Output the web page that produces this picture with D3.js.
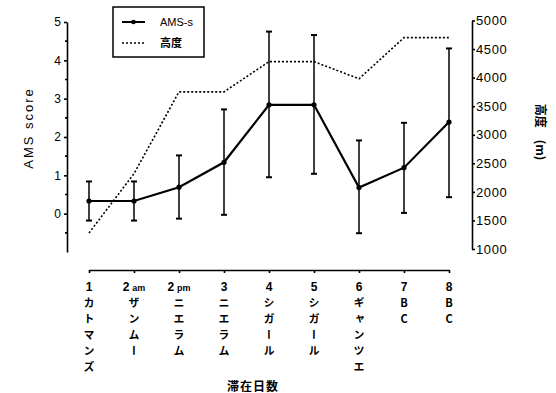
<!DOCTYPE html>
<html>
<head>
<meta charset="utf-8">
<script src="https://cdn.jsdelivr.net/npm/d3@7"></script>
<style>
  body { margin: 0; background: #fff; }
  svg { display: block; font-family: "Liberation Sans", Arial, sans-serif; }
  .axis path, .axis line { stroke: #000; stroke-width: 1.6; }
  .axis text { fill: #000; }
</style>
</head>
<body>
<svg id="chart"></svg>
<script>
const w = 556,
h = 393,
days = ["1", "2am", "2pm", "3", "4", "5", "6", "7", "8"],
dayNums = ["1", "2", "2", "3", "4", "5", "6", "7", "8"],
daySuffix = ["", "am", "pm", "", "", "", "", "", ""],
places = ["カトマンズ", "ザンムー", "ニエラム", "ニエラム", "シガール", "シガール", "ギャンツエ", "BC", "BC"],
amsMean = [0.33, 0.33, 0.69, 1.34, 2.84, 2.84, 0.68, 1.2, 2.39],
amsUpper = [0.84, 0.84, 1.52, 2.72, 4.75, 4.66, 1.91, 2.37, 4.31],
amsLower = [-0.18, -0.18, -0.13, -0.03, 0.95, 1.04, -0.51, 0.02, 0.43],
altitude = [1280, 2320, 3750, 3750, 4280, 4280, 3980, 4700, 4700],
amsTicks = [0, 1, 2, 3, 4, 5],
amsMinor = [-0.5, 0.5, 1.5, 2.5, 3.5, 4.5],
altTicks = [1000, 1500, 2000, 2500, 3000, 3500, 4000, 4500, 5000];

const svg = d3.select("#chart")
    .attr("width", w)
    .attr("height", h)
    .attr("viewBox", [0, 0, w, h]);

const x = d3.scalePoint()
    .domain(days)
    .range([89, 449]);

const yAms = d3.scaleLinear()
    .domain([-1, 5])
    .range([252, 22]);

const yAlt = d3.scaleLinear()
    .domain([1000, 5000])
    .range([249, 20.5]);

// left axis
const left = svg.append("g")
    .attr("class", "axis")
    .attr("transform", "translate(67,0)")
    .call(d3.axisLeft(yAms).tickValues(amsTicks).tickSize(3).tickPadding(3).tickSizeOuter(0).tickFormat(d3.format("d")));
left.selectAll("text").attr("font-size", 12);
left.selectAll(".minor")
    .data(amsMinor)
    .enter().append("line")
    .attr("x1", -2).attr("x2", 0)
    .attr("y1", d => yAms(d)).attr("y2", d => yAms(d))
    .attr("stroke", "#000").attr("stroke-width", 1.2);

// right axis
const right = svg.append("g")
    .attr("class", "axis")
    .attr("transform", "translate(472,0)")
    .call(d3.axisRight(yAlt).tickValues(altTicks).tickSize(3).tickPadding(1).tickSizeOuter(0).tickFormat(d3.format("d")));
right.selectAll("text").attr("font-size", 13).attr("letter-spacing", 0.6);

// x axis
svg.append("g")
    .attr("class", "axis")
    .attr("transform", "translate(0,270)")
    .call(d3.axisBottom(x).tickSize(3).tickSizeOuter(0).tickFormat(""));

// x tick labels
const lab = svg.append("g")
    .selectAll("g")
    .data(days)
    .enter().append("g")
    .attr("transform", d => `translate(${x(d)},0)`);

lab.append("text")
    .attr("y", 291)
    .attr("text-anchor", "middle")
    .attr("font-size", 12)
    .attr("font-weight", "bold")
    .each(function(d, i) {
        const t = d3.select(this);
        t.append("tspan").text(dayNums[i]);
        if (daySuffix[i]) {
            t.append("tspan").attr("font-size", 9).attr("dx", 3).text(daySuffix[i]);
        }
    });

lab.append("text")
    .attr("x", 0)
    .attr("y", 297)
    .attr("font-size", 11)
    .attr("font-weight", "bold")
    .attr("font-family", "'Noto Sans CJK JP', sans-serif")
    .style("writing-mode", "vertical-rl")
    .style("text-orientation", "upright")
    .attr("letter-spacing", 5)
    .text((d, i) => places[i]);

// altitude dotted line
svg.append("path")
    .datum(altitude)
    .attr("fill", "none")
    .attr("stroke", "#000")
    .attr("stroke-width", 1.6)
    .attr("stroke-dasharray", "2,2")
    .attr("d", d3.line().x((d, i) => x(days[i])).y(d => yAlt(d)));

// error bars
const err = svg.append("g")
    .selectAll("g")
    .data(days)
    .enter().append("g");

err.append("line")
    .attr("x1", d => x(d)).attr("x2", d => x(d))
    .attr("y1", (d, i) => yAms(amsUpper[i]))
    .attr("y2", (d, i) => yAms(amsLower[i]))
    .attr("stroke", "#000").attr("stroke-width", 1.5);

err.selectAll(".cap")
    .data((d, i) => [[d, amsUpper[i]], [d, amsLower[i]]])
    .enter().append("line")
    .attr("x1", d => x(d[0]) - 3).attr("x2", d => x(d[0]) + 3)
    .attr("y1", d => yAms(d[1])).attr("y2", d => yAms(d[1]))
    .attr("stroke", "#000").attr("stroke-width", 2);

// AMS line
svg.append("path")
    .datum(amsMean)
    .attr("fill", "none")
    .attr("stroke", "#000")
    .attr("stroke-width", 2.2)
    .attr("d", d3.line().x((d, i) => x(days[i])).y(d => yAms(d)));

svg.append("g")
    .selectAll("circle")
    .data(amsMean)
    .enter().append("circle")
    .attr("cx", (d, i) => x(days[i]))
    .attr("cy", d => yAms(d))
    .attr("r", 2.6)
    .attr("fill", "#000");

// legend
const lg = svg.append("g");
lg.append("rect")
    .attr("x", 113).attr("y", 7)
    .attr("width", 91).attr("height", 50)
    .attr("fill", "#fff").attr("stroke", "#000").attr("stroke-width", 1.5);
lg.append("line")
    .attr("x1", 122).attr("x2", 145).attr("y1", 22).attr("y2", 22)
    .attr("stroke", "#000").attr("stroke-width", 2);
lg.append("circle")
    .attr("cx", 133.5).attr("cy", 22).attr("r", 2.3).attr("fill", "#000");
lg.append("text")
    .attr("x", 160).attr("y", 26)
    .attr("font-size", 11)
    .text("AMS-s");
lg.append("line")
    .attr("x1", 122).attr("x2", 145).attr("y1", 43).attr("y2", 43)
    .attr("stroke", "#000").attr("stroke-width", 1.4).attr("stroke-dasharray", "2,2");
lg.append("text")
    .attr("x", 160).attr("y", 47)
    .attr("font-size", 11)
    .attr("font-weight", "bold")
    .attr("font-family", "'Noto Sans CJK JP', sans-serif")
    .text("高度");

// axis titles
svg.append("text")
    .attr("transform", "translate(33,128) rotate(-90)")
    .attr("text-anchor", "middle")
    .attr("font-size", 13)
    .attr("letter-spacing", 2)
    .text("AMS score");

svg.append("text")
    .attr("transform", "translate(536,132) rotate(90)")
    .attr("text-anchor", "middle")
    .attr("font-size", 12)
    .attr("font-family", "'Noto Sans CJK JP', sans-serif")
    .attr("font-weight", "bold")
    .text("高度　(m)");

svg.append("text")
    .attr("x", 253).attr("y", 391)
    .attr("text-anchor", "middle")
    .attr("font-size", 12)
    .attr("font-weight", "bold")
    .attr("font-family", "'Noto Sans CJK JP', sans-serif")
    .attr("letter-spacing", 1)
    .text("滞在日数");
</script>
</body>
</html>
